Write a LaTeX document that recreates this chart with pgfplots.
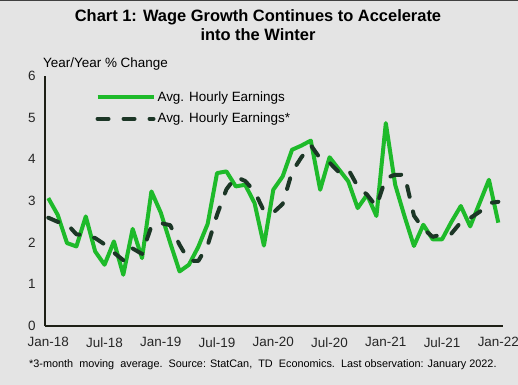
\documentclass[border=0pt]{standalone}
\usepackage{pgfplots}
\pgfplotsset{compat=1.18}
\usepackage{pgfplotstable}
\usepackage{fontspec}
\setmainfont{Liberation Sans}
\definecolor{bg}{RGB}{228,228,228}
\definecolor{ahe}{RGB}{30,186,42}
\definecolor{ahema}{RGB}{28,54,38}
\definecolor{axc}{RGB}{30,32,22}
\pgfplotstableread{
m g ma
0 3.07 2.60
1 2.67 2.50
2 1.99 2.45
3 1.91 2.20
4 2.63 2.18
5 1.79 2.11
6 1.47 1.96
7 2.03 1.76
8 1.23 1.58
9 2.33 1.86
10 1.63 1.73
11 3.23 2.40
12 2.72 2.47
13 2.00 2.42
14 1.31 1.95
15 1.47 1.57
16 1.90 1.56
17 2.45 1.94
18 3.67 2.67
19 3.71 3.28
20 3.35 3.58
21 3.39 3.48
22 2.95 3.23
23 1.93 2.76
24 3.27 2.72
25 3.59 2.93
26 4.23 3.70
27 4.33 4.05
28 4.45 4.34
29 3.27 4.02
30 4.05 3.92
31 3.76 3.69
32 3.47 3.76
33 2.83 3.35
34 3.15 3.15
35 2.64 2.87
36 4.87 3.55
37 3.39 3.63
38 2.63 3.63
39 1.92 2.65
40 2.43 2.33
41 2.08 2.14
42 2.08 2.20
43 2.50 2.22
44 2.88 2.49
45 2.39 2.59
46 2.95 2.74
47 3.51 2.95
48 2.48 2.98
}\wagedata
\begin{document}
\begin{tikzpicture}
\fill[bg] (0,0) rectangle (518bp,-385bp);
\draw[black!75, line width=1bp] (0,-0.5bp) -- (518bp,-0.5bp);
\node[align=center, font=\bfseries\fontsize{16.5}{19}\selectfont] at (258bp,-25bp)
  {Chart 1: Wage Growth Continues to Accelerate\\into the Winter};
\node[anchor=west, font=\fontsize{13.5}{16}\selectfont, inner sep=0pt] at (43bp,-64bp) {Year/Year  \% Change};
\node[anchor=west, font=\fontsize{10.9}{12}\selectfont, inner sep=0pt] at (29bp,-365bp)
  {*3-month\ \ moving\ \ average.\ \ Source: StatCan,\ \ TD\ \ Economics.\ \ Last observation: January 2022.};
\begin{axis}[
  at={(45bp,-326bp)}, anchor=south west,
  width=458bp, height=250bp, scale only axis,
  xmin=-0.35, xmax=48.5, ymin=0, ymax=6,
  axis x line=bottom, axis y line=left,
  axis line style={-, line width=1.6bp, color=axc},
  xtick={0,6,...,48},
  xticklabels={Jan-18,Jul-18,Jan-19,Jul-19,Jan-20,Jul-20,Jan-21,Jul-21,Jan-22},
  ytick={0,1,...,6},
  major tick length=0pt,
  tick label style={font=\fontsize{13.5}{16}\selectfont, text=black!85},
  /pgf/number format/assume math mode=true,
  yticklabel style={xshift=-6bp},
  xticklabel style={yshift=-8bp},
  clip=false,
  legend style={at={(axis cs:4.7,5.73)}, anchor=north west, draw=none, fill=none,
    font=\fontsize{13.5}{16}\selectfont, row sep=6.5bp,
    nodes={inner sep=2bp}},
  legend cell align=left,
  legend image code/.code={\draw[#1] (0bp,0bp) -- (56bp,0bp);},
]
\addplot[ahe, line width=4bp, line join=round] table[x=m, y=g] {\wagedata};
\addlegendentry{Avg. Hourly Earnings}
\addplot[ahema, line width=4bp, line cap=round, line join=round, dash pattern=on 11bp off 15bp] table[x=m, y=ma] {\wagedata};
\addlegendentry{Avg. Hourly Earnings*}
\end{axis}
\pgfresetboundingbox
\useasboundingbox (0,0) rectangle (518bp,-385bp);
\end{tikzpicture}
\end{document}
